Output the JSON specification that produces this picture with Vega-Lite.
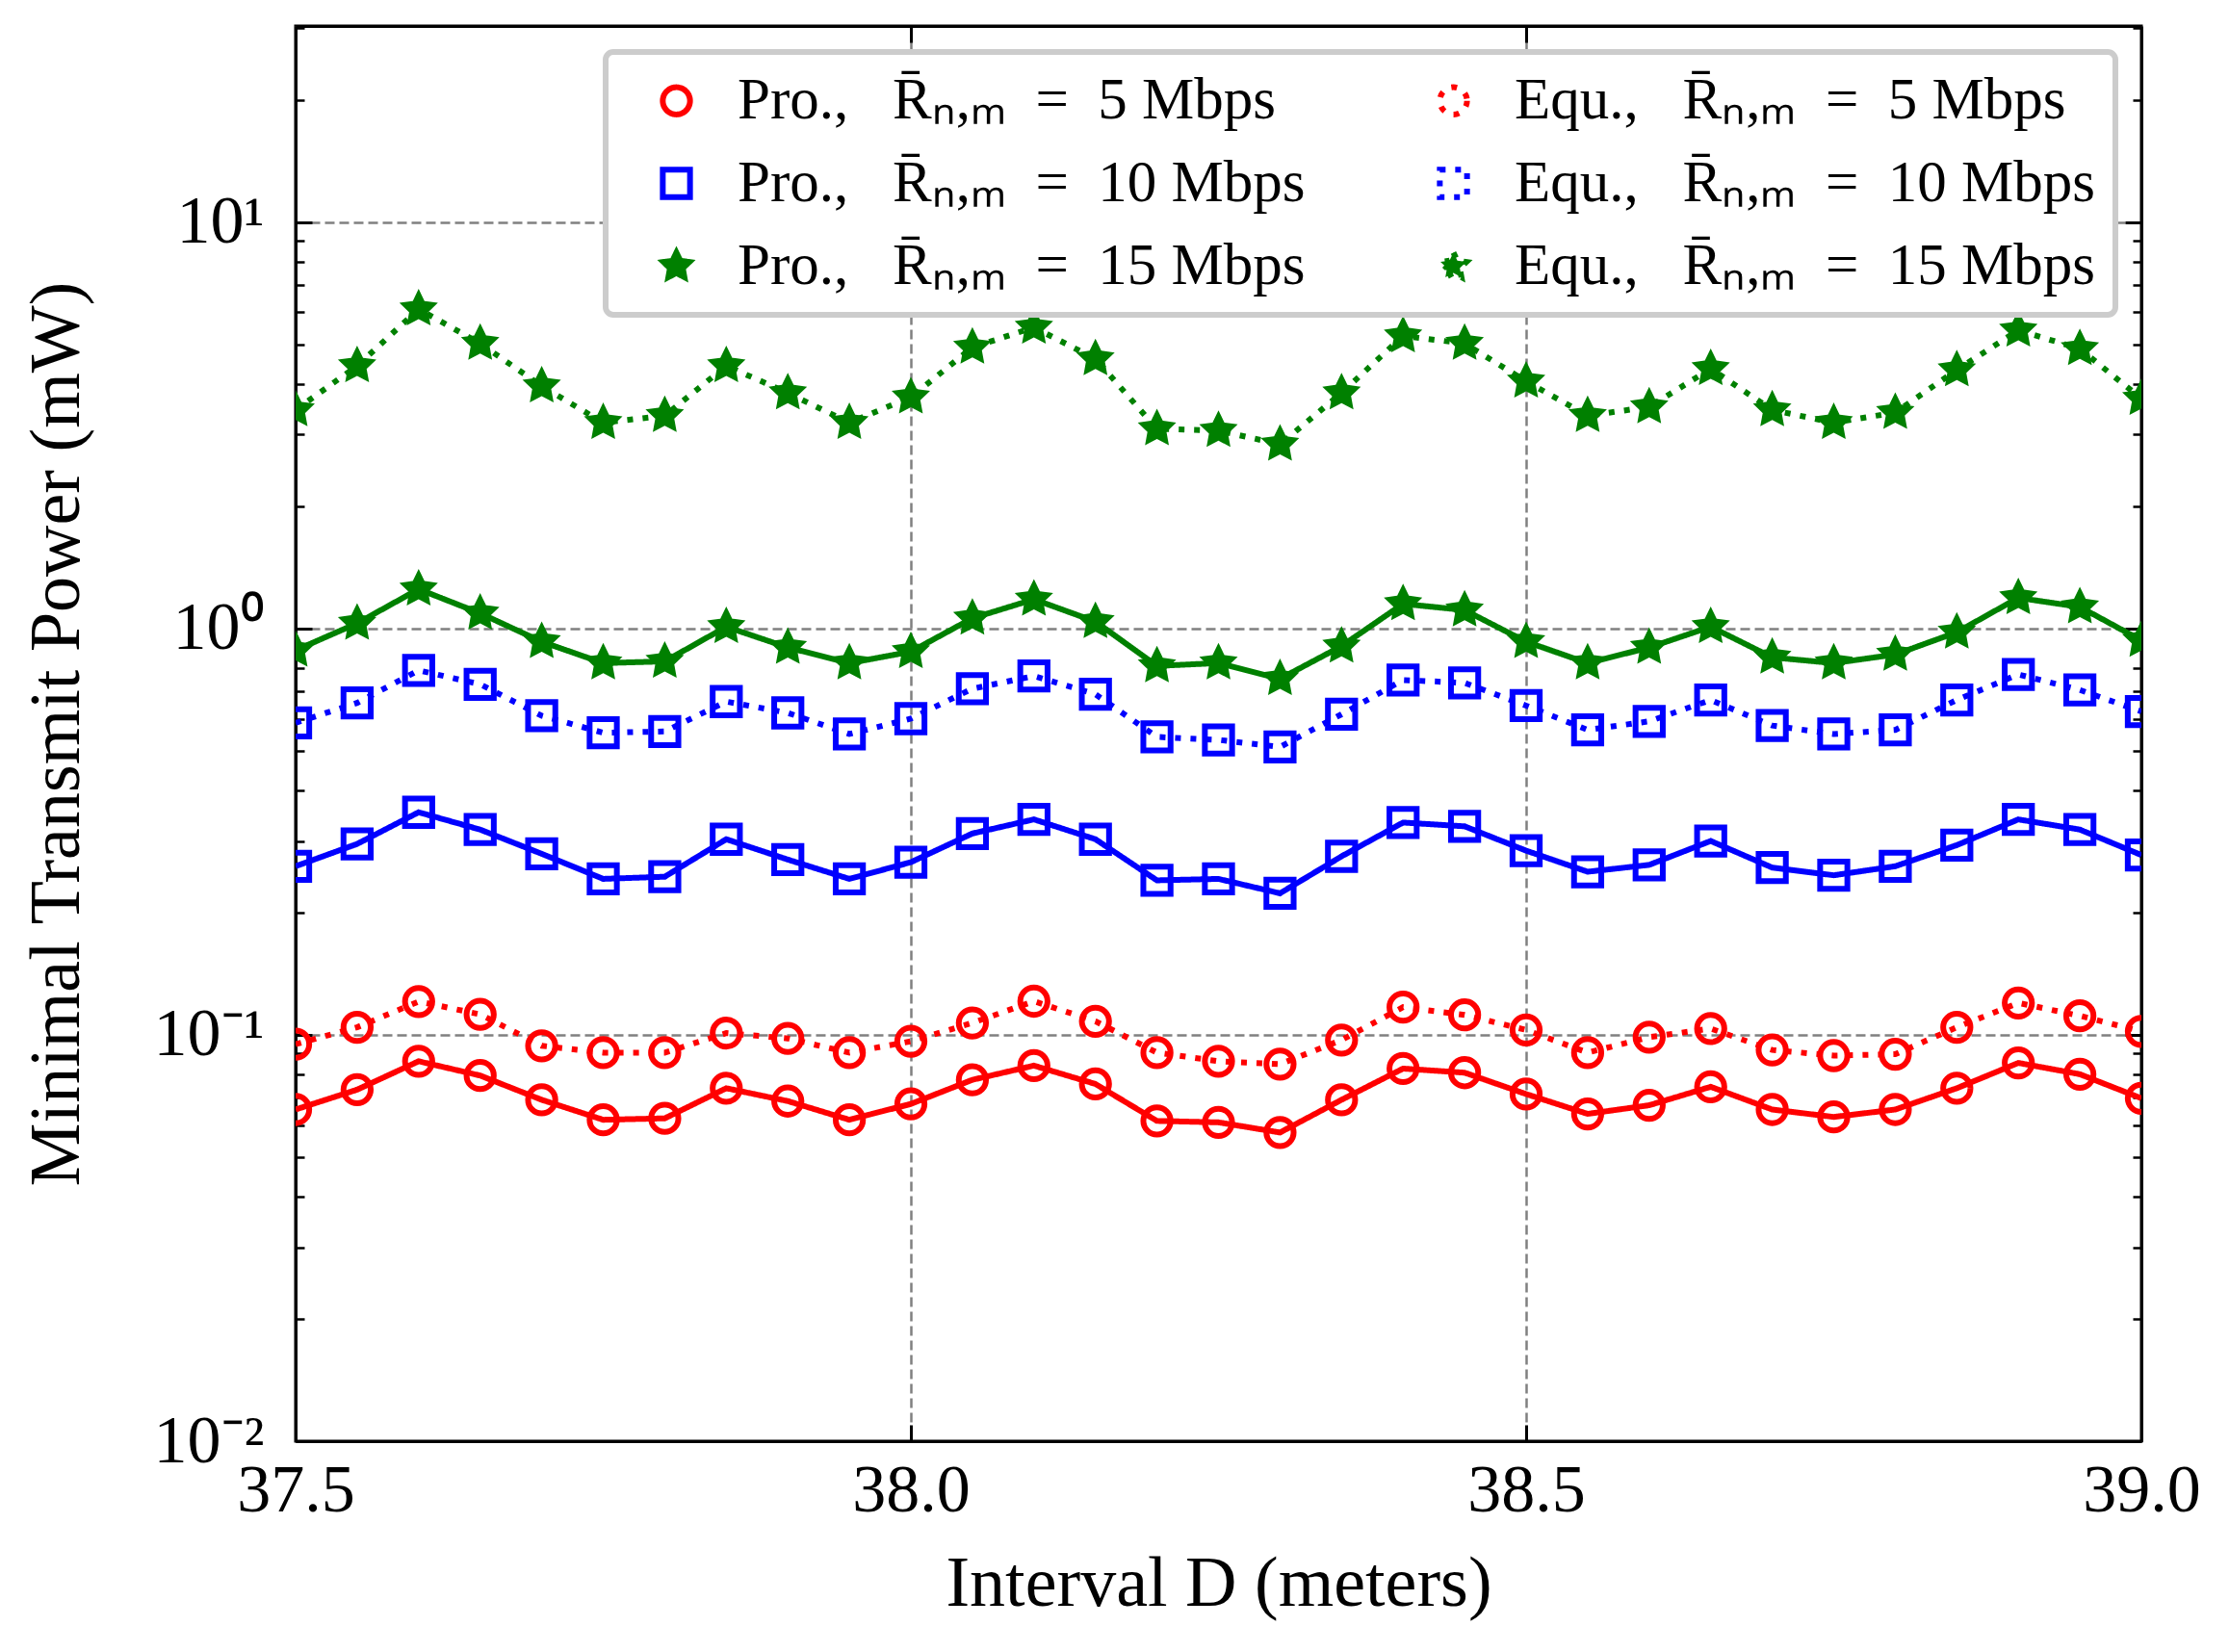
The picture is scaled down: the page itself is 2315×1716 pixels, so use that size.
{
  "$schema": "https://vega.github.io/schema/vega-lite/v6.json",
  "width": 1917,
  "height": 1470,
  "autosize": "none",
  "padding": {"left": 307, "top": 27, "right": 91, "bottom": 219},
  "background": "white",
  "config": {
    "font": "Liberation Serif",
    "view": {"stroke": "black", "strokeWidth": 3},
    "axis": {
      "domainColor": "black",
      "domainWidth": 3,
      "tickColor": "black",
      "tickWidth": 3,
      "labelFont": "Liberation Serif",
      "labelFontSize": 70,
      "labelColor": "black",
      "titleFont": "Liberation Serif",
      "titleFontSize": 74,
      "titleFontWeight": "normal",
      "titleColor": "black",
      "gridColor": "#808080",
      "gridWidth": 2.5,
      "gridDash": [10, 5]
    }
  },
  "data": {
    "values": [
      {"D": 37.5, "p5": 0.0655, "e5": 0.0948, "p10": 0.260, "e10": 0.586, "p15": 0.884, "e15": 3.45},
      {"D": 37.55, "p5": 0.0733, "e5": 0.1044, "p10": 0.295, "e10": 0.656, "p15": 1.03, "e15": 4.43},
      {"D": 37.6, "p5": 0.0861, "e5": 0.1208, "p10": 0.353, "e10": 0.789, "p15": 1.25, "e15": 6.11},
      {"D": 37.65, "p5": 0.0794, "e5": 0.1123, "p10": 0.320, "e10": 0.729, "p15": 1.09, "e15": 5.03},
      {"D": 37.7, "p5": 0.0692, "e5": 0.0940, "p10": 0.279, "e10": 0.610, "p15": 0.928, "e15": 3.95},
      {"D": 37.75, "p5": 0.0618, "e5": 0.0904, "p10": 0.242, "e10": 0.554, "p15": 0.822, "e15": 3.21},
      {"D": 37.8, "p5": 0.0623, "e5": 0.0904, "p10": 0.245, "e10": 0.558, "p15": 0.830, "e15": 3.34},
      {"D": 37.85, "p5": 0.0739, "e5": 0.1010, "p10": 0.303, "e10": 0.661, "p15": 1.01, "e15": 4.43},
      {"D": 37.9, "p5": 0.0687, "e5": 0.0980, "p10": 0.270, "e10": 0.620, "p15": 0.898, "e15": 3.80},
      {"D": 37.95, "p5": 0.0618, "e5": 0.0904, "p10": 0.242, "e10": 0.550, "p15": 0.822, "e15": 3.21},
      {"D": 38.0, "p5": 0.0676, "e5": 0.0964, "p10": 0.266, "e10": 0.600, "p15": 0.877, "e15": 3.71},
      {"D": 38.05, "p5": 0.0775, "e5": 0.1070, "p10": 0.313, "e10": 0.711, "p15": 1.06, "e15": 4.92},
      {"D": 38.1, "p5": 0.0840, "e5": 0.1210, "p10": 0.339, "e10": 0.764, "p15": 1.18, "e15": 5.51},
      {"D": 38.15, "p5": 0.0757, "e5": 0.1080, "p10": 0.303, "e10": 0.689, "p15": 1.04, "e15": 4.61},
      {"D": 38.2, "p5": 0.0614, "e5": 0.0904, "p10": 0.240, "e10": 0.541, "p15": 0.809, "e15": 3.10},
      {"D": 38.25, "p5": 0.0609, "e5": 0.0861, "p10": 0.242, "e10": 0.532, "p15": 0.822, "e15": 3.07},
      {"D": 38.3, "p5": 0.0575, "e5": 0.0847, "p10": 0.223, "e10": 0.511, "p15": 0.752, "e15": 2.84},
      {"D": 38.35, "p5": 0.0692, "e5": 0.0971, "p10": 0.275, "e10": 0.615, "p15": 0.905, "e15": 3.80},
      {"D": 38.4, "p5": 0.0826, "e5": 0.1170, "p10": 0.333, "e10": 0.747, "p15": 1.15, "e15": 5.25},
      {"D": 38.45, "p5": 0.0807, "e5": 0.1120, "p10": 0.326, "e10": 0.735, "p15": 1.11, "e15": 5.03},
      {"D": 38.5, "p5": 0.0715, "e5": 0.1028, "p10": 0.284, "e10": 0.646, "p15": 0.928, "e15": 4.06},
      {"D": 38.55, "p5": 0.0639, "e5": 0.0904, "p10": 0.252, "e10": 0.563, "p15": 0.822, "e15": 3.34},
      {"D": 38.6, "p5": 0.0671, "e5": 0.0987, "p10": 0.262, "e10": 0.591, "p15": 0.898, "e15": 3.51},
      {"D": 38.65, "p5": 0.0745, "e5": 0.1036, "p10": 0.300, "e10": 0.667, "p15": 1.01, "e15": 4.36},
      {"D": 38.7, "p5": 0.0655, "e5": 0.0918, "p10": 0.258, "e10": 0.577, "p15": 0.849, "e15": 3.45},
      {"D": 38.75, "p5": 0.0628, "e5": 0.0889, "p10": 0.247, "e10": 0.550, "p15": 0.822, "e15": 3.21},
      {"D": 38.8, "p5": 0.0655, "e5": 0.0896, "p10": 0.260, "e10": 0.563, "p15": 0.863, "e15": 3.40},
      {"D": 38.85, "p5": 0.0739, "e5": 0.1044, "p10": 0.293, "e10": 0.667, "p15": 0.979, "e15": 4.33},
      {"D": 38.9, "p5": 0.0853, "e5": 0.1198, "p10": 0.339, "e10": 0.771, "p15": 1.19, "e15": 5.42},
      {"D": 38.95, "p5": 0.0800, "e5": 0.1114, "p10": 0.320, "e10": 0.706, "p15": 1.13, "e15": 4.88},
      {"D": 39.0, "p5": 0.0698, "e5": 0.1020, "p10": 0.277, "e10": 0.625, "p15": 0.935, "e15": 3.68}
    ]
  },
  "transform": [
    {"fold": ["p5", "p10", "p15", "e5", "e10", "e15"], "as": ["series", "P"]}
  ],
  "encoding": {
    "x": {"field": "D", "type": "quantitative", "scale": {"domain": [37.5, 39.0], "nice": false, "zero": false}},
    "y": {"field": "P", "type": "quantitative", "scale": {"type": "log", "domain": [0.01, 30.4], "nice": false}}
  },
  "layer": [
    {
      "mark": {"type": "line", "strokeWidth": 6, "strokeCap": "butt", "clip": true},
      "encoding": {
        "x": {
          "field": "D", "type": "quantitative",
          "axis": {"orient": "bottom", "values": [37.5, 38.0, 38.5, 39.0], "format": ".1f", "grid": true,
                   "tickSize": -17, "labelPadding": 34, "title": "Interval D (meters)", "titlePadding": 26, "labelFlush": false}
        },
        "y": {
          "field": "P", "type": "quantitative",
          "axis": {"orient": "left", "values": [0.01, 0.1, 1, 10], "grid": true, "tickSize": -17, "labelPadding": 50,
                   "labelExpr": "datum.value >= 9 ? '10¹' : datum.value >= 0.9 ? '10⁰' : datum.value >= 0.09 ? '10⁻¹' : '10⁻²'",
                   "title": "Minimal Transmit Power (mW)", "titlePadding": 62, "labelFlush": false}
        },
        "color": {
          "field": "series", "type": "nominal",
          "scale": {"domain": ["p5", "p10", "p15", "e5", "e10", "e15"],
                    "range": ["#ff0000", "#0000ff", "#008000", "#ff0000", "#0000ff", "#008000"]},
          "legend": {
            "title": null, "orient": "top-right", "offset": 27, "columns": 2,
            "labelExpr": "(datum.value[0] == 'p' ? 'Pro.,\u2002 ' : 'Equ.,\u2002 ') + 'R̄ₙ,ₘ\u2002=\u2002' + slice(datum.value, 1) + ' Mbps'",
            "labelFont": "Liberation Serif", "labelFontSize": 61, "labelColor": "black", "labelLimit": 2000,
            "symbolSize": 800, "symbolStrokeWidth": 6, "symbolFillColor": "transparent",
            "symbolOffset": 23, "labelOffset": 33,
            "columnPadding": 100, "rowPadding": 24,
            "padding": 20, "strokeColor": "#cccccc", "cornerRadius": 8, "fillColor": "white",
            "encode": {"legend": {"update": {"strokeWidth": {"value": 6}}}}
          }
        },
        "strokeDash": {
          "field": "series", "type": "nominal",
          "scale": {"domain": ["p5", "p10", "p15", "e5", "e10", "e15"],
                    "range": [[1, 0], [1, 0], [1, 0], [6, 10], [6, 10], [6, 10]]},
          "legend": null
        }
      }
    },
    {
      "mark": {"type": "point", "filled": false, "strokeWidth": 6, "opacity": 1, "clip": true},
      "encoding": {
        "x": {"field": "D", "type": "quantitative",
              "axis": {"orient": "top", "values": [38.0, 38.5], "labels": false, "title": null, "tickSize": -17, "grid": false}},
        "y": {"field": "P", "type": "quantitative",
              "axis": {"orient": "right", "values": [0.1, 1, 10], "labels": false, "title": null, "tickSize": -17, "grid": false}},
        "color": {"field": "series", "type": "nominal"},
        "shape": {
          "field": "series", "type": "nominal",
          "scale": {"domain": ["p5", "p10", "p15", "e5", "e10", "e15"],
                    "range": ["circle", "square",
                              "M0,-1L0.29,-0.4L0.95,-0.31L0.47,0.15L0.59,0.81L0,0.5L-0.59,0.81L-0.47,0.15L-0.95,-0.31L-0.29,-0.4Z",
                              "circle", "square",
                              "M0,-1L0.29,-0.4L0.95,-0.31L0.47,0.15L0.59,0.81L0,0.5L-0.59,0.81L-0.47,0.15L-0.95,-0.31L-0.29,-0.4Z"]}
        },
        "fill": {
          "field": "series", "type": "nominal",
          "scale": {"domain": ["p5", "p10", "p15", "e5", "e10", "e15"],
                    "range": ["transparent", "transparent", "#008000", "transparent", "transparent", "#008000"]},
          "legend": null
        },
        "size": {"value": 800}
      }
    },
    {
      "mark": {"type": "point", "opacity": 0},
      "encoding": {
        "x": {"field": "D", "type": "quantitative", "axis": null},
        "y": {"field": "P", "type": "quantitative",
              "axis": {"orient": "left", "values": [0.02, 0.03, 0.04, 0.05, 0.06, 0.07, 0.08, 0.09, 0.2, 0.3, 0.4, 0.5, 0.6, 0.7, 0.8, 0.9, 2, 3, 4, 5, 6, 7, 8, 9, 20, 30],
                       "labels": false, "title": null, "tickSize": -9, "tickWidth": 2.5, "domain": false, "grid": false}}
      }
    },
    {
      "mark": {"type": "point", "opacity": 0},
      "encoding": {
        "x": {"field": "D", "type": "quantitative", "axis": null},
        "y": {"field": "P", "type": "quantitative",
              "axis": {"orient": "right", "values": [0.02, 0.03, 0.04, 0.05, 0.06, 0.07, 0.08, 0.09, 0.2, 0.3, 0.4, 0.5, 0.6, 0.7, 0.8, 0.9, 2, 3, 4, 5, 6, 7, 8, 9, 20, 30],
                       "labels": false, "title": null, "tickSize": -9, "tickWidth": 2.5, "domain": false, "grid": false}}
      }
    }
  ],
  "resolve": {"axis": {"x": "independent", "y": "independent"}}
}
